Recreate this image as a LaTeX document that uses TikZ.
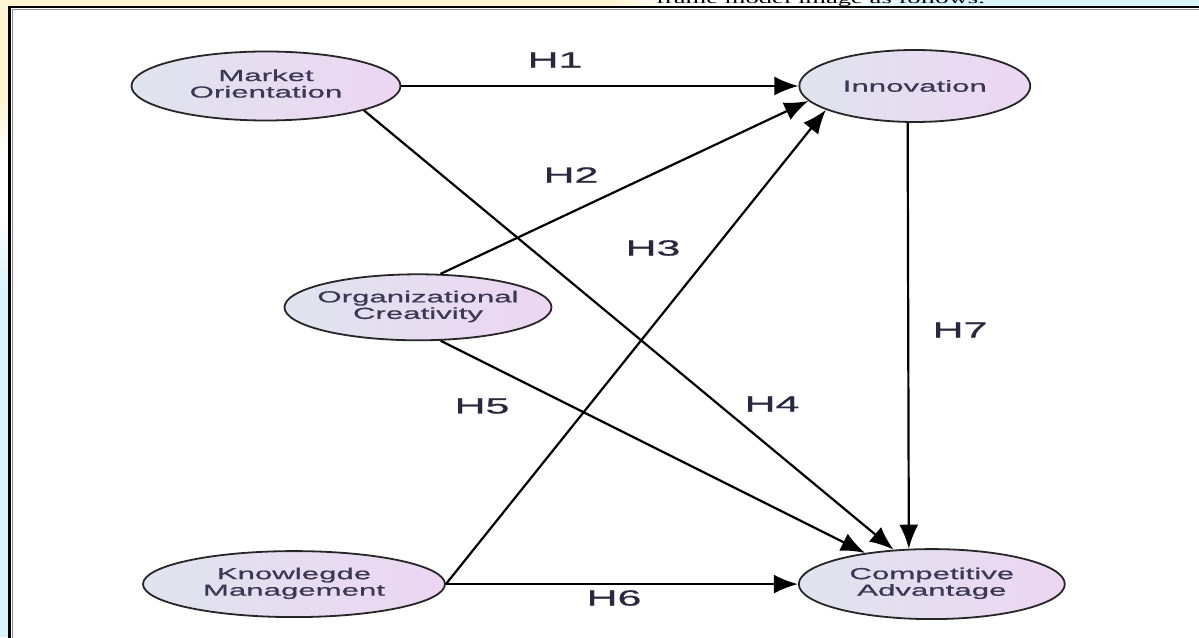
\documentclass[tikz,border=0pt]{standalone}
\usepackage{fontspec}
\setmainfont{Liberation Sans}
\newfontfamily\diagfont[FakeStretch=1.95,FakeBold=0.8]{Liberation Sans}
\newfontfamily\notefont[FakeStretch=1.9]{Liberation Serif}
\usetikzlibrary{shapes.geometric}
\usetikzlibrary{arrows.meta}
\usetikzlibrary{positioning}
\definecolor{fillleft}{RGB}{224,228,238}
\definecolor{fillright}{RGB}{236,214,242}
\definecolor{nodetext}{RGB}{58,56,84}
\definecolor{hyptext}{RGB}{40,40,62}
\definecolor{pageyellow}{RGB}{255,245,212}
\definecolor{pageblue}{RGB}{216,245,252}
\newcommand{\inell}[1]{\makebox[0pt]{\begin{tabular}{@{}c@{}}#1\end{tabular}}}
\tikzset{
  construct/.style={ellipse, draw=black!85, line width=1.8pt,
    left color=fillleft, right color=fillright, inner sep=0pt,
    text=nodetext, font=\diagfont\fontsize{16}{16.5}\selectfont,
    minimum width=267pt, minimum height=66pt},
  hyp/.style={-{Latex[length=24pt,width=19pt]}, line width=2.2pt, black},
  hlabel/.style={text=hyptext, font=\diagfont\fontsize{22}{22}\selectfont, inner sep=0pt}
}

\begin{document}
\begin{tikzpicture}[x=1pt,y=1pt]

  \useasboundingbox (0,0) rectangle (1199,637);

  % Page around the frame
  \fill[white] (0,0) rectangle (1199,637);
  \fill[pageyellow] (0,537) rectangle (9,637);
  \shade[top color=pageyellow, bottom color=white] (0,480) rectangle (9,537);
  \shade[top color=white, bottom color=pageblue] (0,347) rectangle (9,420);
  \fill[pageblue] (0,0) rectangle (9,347);
  \fill[pageyellow] (0,630) rectangle (610,637);
  \shade[left color=pageyellow, right color=white] (610,630) rectangle (680,637);
  \shade[left color=white, right color=pageblue] (850,630) rectangle (903,637);
  \fill[pageblue] (903,630) rectangle (1199,637);
  \begin{scope}
    \clip (0,0) rectangle (1199,637);
    \node[anchor=base west, inner sep=0pt, font=\notefont\fontsize{14}{14}\selectfont] (note) at (656,633.5) {frame model image as follows.};
  \end{scope}

  % Frame
  \draw[black!45, line width=1.5pt] (12.5,-5) -- (12.5,627.5) -- (1205,627.5);
  \draw[black, line width=2.5pt] (9.5,-5) -- (9.5,630) -- (1205,630);

  % Define nodes
  \node[construct, minimum width=269pt, minimum height=69pt] (mo) at (266,551) {\inell{Market\\Orientation}};
  \node[construct, minimum width=231pt, minimum height=72pt, right=397pt of mo] (inn) {Innovation};
  \node[construct, below=152pt of mo, xshift=152pt] (oc) {\inell{Organizational\\Creativity}};
  \node[construct, minimum width=302pt, below=209pt of oc, xshift=-124pt] (km) {\inell{Knowlegde\\Management}};
  \node[construct, minimum width=266pt, minimum height=70pt, right=352pt of km] (ca) {\inell{Competitive\\Advantage}};

  % Connect the nodes
  \draw[hyp] (mo.east) -- (inn.west);
  \draw[hyp] (oc.56) -- (inn.188);
  \draw[hyp] (km.east) -- (inn.195);
  \draw[hyp] (mo.346) -- (ca.138);
  \draw[hyp] (oc.304) -- (ca.155);
  \draw[hyp] (km.east) -- (ca.west);
  \draw[hyp] (inn.259) -- (ca.123);

  % Hypotheses
  \node[hlabel] (h1) at (555,577) {H1};
  \node[hlabel] (h2) at (571,462) {H2};
  \node[hlabel] (h3) at (653,389) {H3};
  \node[hlabel] (h4) at (772,233) {H4};
  \node[hlabel] (h5) at (482,231) {H5};
  \node[hlabel] (h6) at (614,39) {H6};
  \node[hlabel] (h7) at (960,307) {H7};

\end{tikzpicture}
\end{document}
